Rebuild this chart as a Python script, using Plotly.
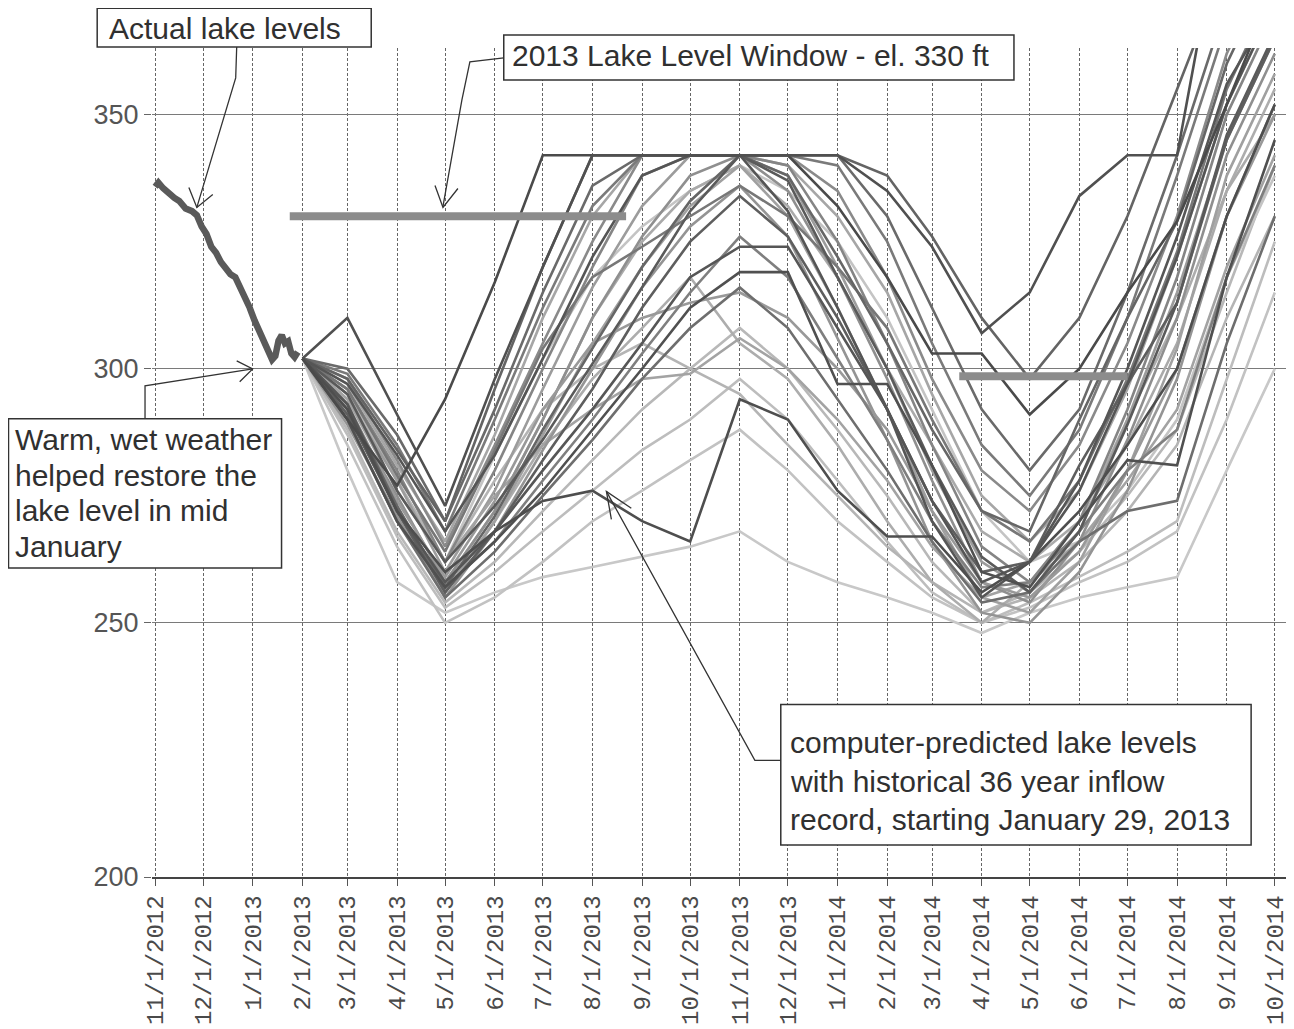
import plotly.graph_objects as go

# ---------------- data ----------------
month_ticks = ['2012-11-01', '2012-12-01', '2013-01-01', '2013-02-01', '2013-03-01', '2013-04-01',
               '2013-05-01', '2013-06-01', '2013-07-01', '2013-08-01', '2013-09-01', '2013-10-01',
               '2013-11-01', '2013-12-01', '2014-01-01', '2014-02-01', '2014-03-01', '2014-04-01',
               '2014-05-01', '2014-06-01', '2014-07-01', '2014-08-01', '2014-09-01', '2014-10-01']
month_labels = ['11/1/2012', '12/1/2012', '1/1/2013', '2/1/2013', '3/1/2013', '4/1/2013',
                '5/1/2013', '6/1/2013', '7/1/2013', '8/1/2013', '9/1/2013', '10/1/2013',
                '11/1/2013', '12/1/2013', '1/1/2014', '2/1/2014', '3/1/2014', '4/1/2014',
                '5/1/2014', '6/1/2014', '7/1/2014', '8/1/2014', '9/1/2014', '10/1/2014']

actual_dates = ['2012-11-01', '2012-11-03', '2012-11-06', '2012-11-10', '2012-11-13', '2012-11-16',
                '2012-11-20', '2012-11-24', '2012-11-27', '2012-11-30', '2012-12-03', '2012-12-06',
                '2012-12-09', '2012-12-12', '2012-12-15', '2012-12-18', '2012-12-21', '2012-12-24',
                '2012-12-27', '2012-12-30', '2013-01-02', '2013-01-05', '2013-01-08', '2013-01-11',
                '2013-01-13', '2013-01-15', '2013-01-17', '2013-01-19', '2013-01-21', '2013-01-23',
                '2013-01-25', '2013-01-27', '2013-01-29']
actual_levels = [335.8, 336.6, 335.5, 334.2, 333.6, 333.0, 331.5, 331.0, 330.2, 328.0, 326.5, 324.0,
                 322.8, 321.0, 319.5, 318.6, 318.0, 316.0, 314.5, 312.0, 309.5, 307.5, 305.8, 303.5,
                 301.8, 302.5, 305.5, 306.6, 305.0, 305.4, 303.0, 302.3, 303.3]

window_2013_dates = ['2013-01-24', '2013-08-22']
window_2013_level = [330, 330]
window_2014_dates = ['2014-03-18', '2014-07-01']
window_2014_level = [298.5, 298.5]

pred_dates = ['2013-02-01', '2013-03-01', '2013-04-01', '2013-05-01', '2013-06-01', '2013-07-01',
              '2013-08-01', '2013-09-01', '2013-10-01', '2013-11-01', '2013-12-01', '2014-01-01',
              '2014-02-01', '2014-03-01', '2014-04-01', '2014-05-01', '2014-06-01', '2014-07-01',
              '2014-08-01', '2014-09-01', '2014-10-01']

# predicted lake levels, one list per historical inflow year (light series first)
pred_21 = [302, 280, 258, 252, 256, 259, 261, 263, 265, 268, 262, 258, 255, 252, 248, 252, 255, 257, 259, 280, 300]
pred_20 = [302, 285, 265, 250, 255, 262, 270, 276, 282, 288, 280, 270, 262, 255, 250, 253, 258, 262, 268, 290, 315]
pred_30 = [302, 287, 267, 253, 260, 268, 276, 284, 290, 298, 290, 278, 266, 256, 250, 254, 259, 264, 270, 298, 325]
pred_19 = [302, 288, 268, 254, 262, 272, 282, 292, 300, 308, 300, 288, 275, 262, 252, 256, 264, 275, 288, 315, 340]
pred_27 = [302, 296, 278, 262, 283, 302, 318, 328, 335, 340, 335, 325, 310, 292, 272, 262, 266, 276, 290, 318, 338]
pred_17 = [302, 295, 278, 262, 278, 292, 300, 305, 300, 295, 285, 275, 265, 258, 252, 255, 262, 272, 285, 310, 330]
pred_18 = [302, 292, 272, 256, 270, 285, 298, 308, 318, 305, 298, 285, 270, 258, 250, 258, 270, 290, 310, 335, 355]
pred_16 = [302, 290, 270, 258, 272, 290, 310, 325, 335, 340, 332, 318, 300, 285, 268, 262, 270, 285, 305, 335, 350]
pred_26 = [302, 297, 281, 266, 287, 310, 330, 342, 342, 342, 340, 330, 315, 295, 275, 266, 276, 296, 322, 352, 372]
pred_14 = [302, 291, 273, 256, 270, 287, 305, 320, 332, 340, 330, 312, 292, 272, 255, 252, 262, 280, 304, 338, 358]
pred_12 = [302, 294, 278, 260, 276, 296, 316, 332, 342, 342, 338, 320, 300, 280, 262, 256, 268, 290, 315, 345, 365]
pred_22 = [302, 294, 276, 262, 275, 285, 292, 298, 299, 306, 300, 290, 278, 265, 255, 258, 266, 278, 292, 320, 342]
pred_15 = [302, 289, 271, 255, 268, 284, 300, 316, 328, 336, 326, 306, 286, 266, 252, 250, 260, 276, 298, 330, 352]
pred_13 = [302, 292, 275, 258, 272, 290, 310, 326, 338, 342, 335, 318, 298, 278, 258, 254, 266, 286, 310, 342, 362]
pred_24 = [302, 293, 274, 259, 274, 292, 305, 310, 313, 315, 310, 300, 288, 272, 258, 255, 264, 280, 300, 330, 350]
pred_10 = [302, 298, 282, 265, 285, 305, 325, 342, 342, 342, 342, 335, 318, 298, 280, 272, 285, 305, 330, 362, 382]
pred_32 = [302, 292, 272, 257, 266, 278, 290, 303, 315, 326, 318, 302, 286, 270, 257, 258, 268, 280, 288, 318, 340]
pred_09 = [302, 299, 285, 268, 290, 312, 332, 342, 342, 342, 342, 340, 325, 305, 285, 275, 288, 310, 338, 368, 388]
pred_11 = [302, 296, 280, 262, 280, 300, 320, 338, 342, 342, 340, 325, 305, 285, 265, 258, 270, 292, 318, 350, 370]
pred_23 = [302, 296, 279, 264, 284, 304, 318, 324, 330, 336, 330, 320, 308, 290, 272, 266, 278, 298, 323, 355, 375]
pred_31 = [302, 290, 270, 255, 264, 275, 286, 298, 308, 316, 308, 294, 280, 266, 254, 256, 266, 272, 274, 305, 330]
pred_08 = [302, 300, 287, 270, 292, 315, 336, 342, 342, 342, 342, 342, 330, 312, 292, 280, 292, 315, 342, 372, 392]
pred_28 = [302, 293, 273, 257, 271, 288, 304, 320, 333, 342, 338, 322, 305, 288, 272, 268, 290, 310, 329, 360, 380]
pred_29 = [302, 291, 272, 256, 268, 282, 296, 312, 325, 334, 326, 310, 292, 274, 260, 262, 281, 297, 313, 345, 365]
pred_25 = [302, 298, 284, 270, 296, 320, 342, 342, 342, 342, 342, 342, 338, 326, 310, 298, 310, 330, 355, 380, 400]
pred_04 = [302, 295, 276, 262, 273, 286, 301, 316, 331, 342, 337, 318, 300, 281, 263, 256, 268, 289, 313, 346, 366]
pred_05 = [302, 293, 272, 258, 268, 280, 292, 305, 318, 324, 324, 308, 292, 270, 255, 262, 278, 300, 326, 356, 372]
pred_06 = [302, 290, 270, 257, 266, 276, 288, 300, 312, 319, 319, 297, 297, 281, 260, 257, 270, 282, 281, 318, 345]
pred_07 = [302, 292, 272, 260, 268, 274, 276, 270, 266, 294, 290, 276, 267, 267, 256, 262, 272, 285, 300, 330, 352]
pred_03 = [302, 297, 283, 268, 283, 302, 322, 338, 342, 342, 331, 312, 292, 274, 258, 262, 276, 297, 322, 352, 372]
pred_02 = [302, 290, 277, 294, 317, 342, 342, 342, 342, 342, 342, 332, 318, 303, 303, 291, 300, 315, 329, 352, 375]
pred_01 = [302, 310, 291, 273, 298, 320, 342, 342, 342, 342, 342, 342, 335, 324, 307, 315, 334, 342, 342, 395, 420]

pred_series = [pred_21, pred_20, pred_30, pred_19, pred_27, pred_17, pred_18, pred_16, pred_26,
               pred_14, pred_12, pred_22, pred_15, pred_13, pred_24, pred_10, pred_32, pred_09,
               pred_11, pred_23, pred_31, pred_08, pred_28, pred_29, pred_25, pred_04, pred_05,
               pred_06, pred_07, pred_03, pred_02, pred_01]

# ---------------- styles ----------------
pred_colors = ['#c8c8c8', '#c2c2c2', '#bdbdbd', '#b8b8b8', '#c4c4c4', '#b4b4b4', '#adadad', '#aaaaaa',
               '#a6a6a6', '#a0a0a0', '#9c9c9c', '#a3a3a3', '#949494', '#8f8f8f', '#999999', '#8a8a8a',
               '#7f7f7f', '#7a7a7a', '#858585', '#777777', '#6e6e6e', '#6a6a6a', '#666666', '#5e5e5e',
               '#646464', '#5a5a5a', '#565656', '#505050', '#4e4e4e', '#555555', '#4a4a4a', '#505050']

# page has an 8px body margin: figure is sized so the plot area lands on the reference pixels
OFF = 8
W, H = 1294 - OFF, 1029 - OFF
L, R, T, B = 152, 1290, 48, 880          # plot area in page pixels


def px(x):
    return (x - L) / (R - L)


def py(y):
    return (B - y) / (B - T)


fig = go.Figure()

for vals, col in zip(pred_series, pred_colors):
    fig.add_trace(go.Scatter(x=pred_dates, y=vals, mode='lines',
                             line=dict(color=col, width=2.6), hoverinfo='skip', showlegend=False))

fig.add_trace(go.Scatter(x=window_2013_dates, y=window_2013_level, mode='lines',
                         line=dict(color='#8c8c8c', width=8), showlegend=False))
fig.add_trace(go.Scatter(x=window_2014_dates, y=window_2014_level, mode='lines',
                         line=dict(color='#8c8c8c', width=8), showlegend=False))
fig.add_trace(go.Scatter(x=actual_dates, y=actual_levels, mode='lines',
                         line=dict(color='#5a5a5a', width=6.5), showlegend=False))

shapes = []


def rect(x0, y0, x1, y1):
    shapes.append(dict(type='rect', xref='paper', yref='paper', x0=px(x0), x1=px(x1),
                       y0=py(y1), y1=py(y0), line=dict(color='#333333', width=1.5),
                       fillcolor='white', layer='above'))


def poly(points, width=1.3):
    d = 'M ' + ' L '.join(f'{px(a):.5f},{py(b):.5f}' for a, b in points)
    shapes.append(dict(type='path', xref='paper', yref='paper', path=d,
                       line=dict(color='#333333', width=width), layer='above'))


# text boxes
rect(97, 8, 372, 47)
rect(505, 35, 1017, 80)
rect(8, 420, 282, 570)
rect(783, 707, 1255, 848)

# leaders & arrowheads
poly([(237, 47), (236, 78), (197, 208)])
poly([(189, 188), (197, 208), (213, 195)])
poly([(505, 58), (471, 62), (463, 100), (444, 207)])
poly([(436, 186), (444, 208), (459, 189)])
poly([(145, 420), (145, 387), (253, 370)])
poly([(237, 362), (253, 370), (240, 383)])
poly([(783, 763), (757, 763), (608, 493)])
poly([(613, 521), (608, 493), (633, 510)])

tfont = dict(family='Liberation Sans, Arial, sans-serif', size=30, color='#303030')
text_lines = [
    ('Actual lake levels', 107, 28),
    ('2013 Lake Level Window - el. 330 ft', 511, 56),
    ('Warm, wet weather', 13, 441),
    ('helped restore the', 13, 477),
    ('lake level in mid', 13, 512),
    ('January', 13, 548),
    ('computer-predicted lake levels', 790, 745),
    ('with historical 36 year inflow', 790, 784),
    ('record, starting January 29, 2013', 790, 822),
]
annotations = [dict(text=t, x=px(x), y=py(y), xref='paper', yref='paper', xanchor='left',
                    yanchor='middle', showarrow=False, font=tfont) for t, x, y in text_lines]

fig.update_layout(
    width=W, height=H,
    margin=dict(l=L - OFF, r=W - (R - OFF), t=T - OFF, b=H - (B - OFF)),
    paper_bgcolor='white', plot_bgcolor='white',
    shapes=shapes, annotations=annotations,
    xaxis=dict(type='date', range=['2012-10-30', '2014-10-08'],
               tickmode='array', tickvals=month_ticks, ticktext=month_labels,
               tickangle=-90, tickfont=dict(family='Liberation Mono, monospace', size=24, color='#4a4a4a'),
               showgrid=True, gridcolor='#666666', gridwidth=1, griddash='3px,2px',
               showline=True, linecolor='#444444', linewidth=1.5,
               ticks='outside', ticklen=7, tickcolor='#555555', zeroline=False),
    yaxis=dict(range=[200, 363.1], tickmode='array', tickvals=[200, 250, 300, 350],
               ticktext=['200', '250', '300', '350'],
               tickfont=dict(family='Liberation Sans, Arial, sans-serif', size=27, color='#555555'),
               showgrid=True, gridcolor='#7a7a7a', gridwidth=1.2,
               ticks='outside', ticklen=7, tickcolor='#666666', zeroline=False, showline=False),
)

fig.write_html('out.html')
